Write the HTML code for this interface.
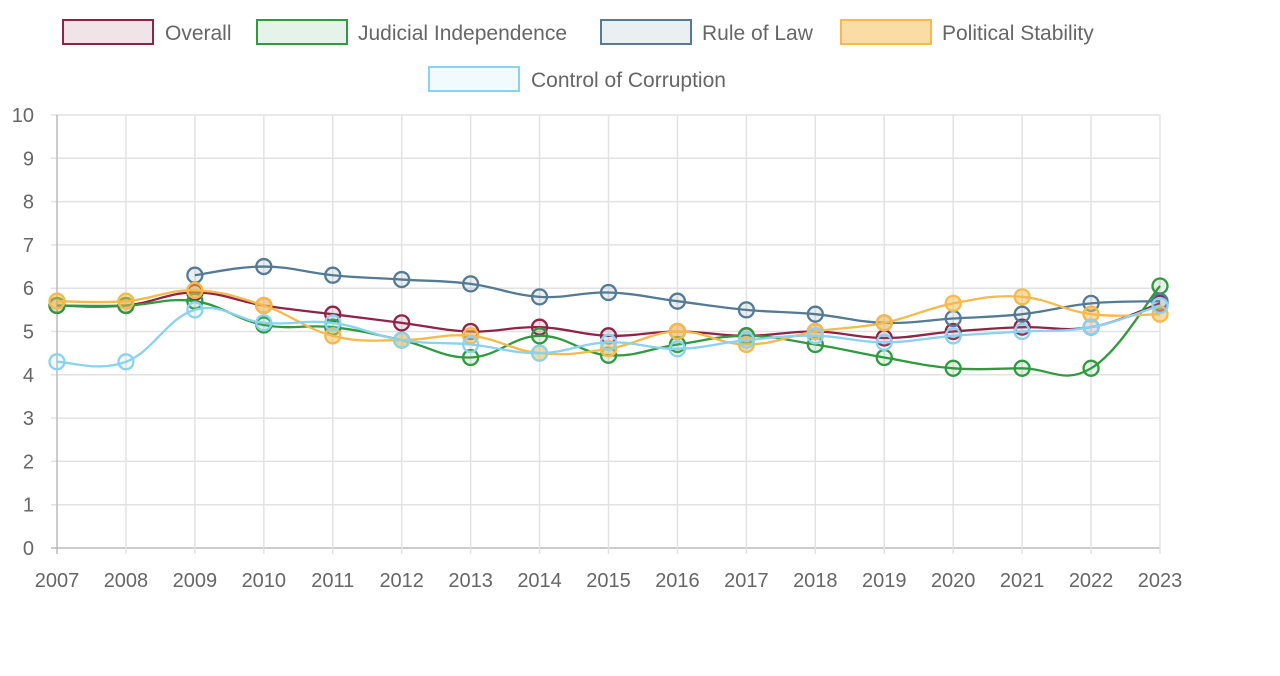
<!DOCTYPE html>
<html><head><meta charset="utf-8"><style>
body{margin:0;background:#fff;font-family:"Liberation Sans",sans-serif}
svg text{font-family:"Liberation Sans",sans-serif;fill:#666}
</style></head><body>
<svg id="c" width="1280" height="671"></svg>
<script>
const years=["2007","2008","2009","2010","2011","2012","2013","2014","2015","2016","2017","2018","2019","2020","2021","2022","2023"];
const yTicks=[0,1,2,3,4,5,6,7,8,9,10];
const overall=[5.6,5.6,5.9,5.6,5.4,5.2,5.0,5.1,4.9,5.0,4.9,5.0,4.85,5.0,5.1,5.1,5.65];
const judicial=[5.6,5.6,5.7,5.15,5.1,4.8,4.4,4.9,4.45,4.7,4.9,4.7,4.4,4.15,4.15,4.15,6.05];
const ruleOfLaw=[null,null,6.3,6.5,6.3,6.2,6.1,5.8,5.9,5.7,5.5,5.4,5.2,5.3,5.4,5.65,5.7];
const political=[5.7,5.7,5.95,5.6,4.9,4.8,4.9,4.5,4.6,5.0,4.7,5.0,5.2,5.65,5.8,5.4,5.4];
const corruption=[4.3,4.3,5.5,5.2,5.2,4.8,4.7,4.5,4.75,4.6,4.8,4.9,4.75,4.9,5.0,5.1,5.6];
const series=[
 {name:"Overall",key:"overall",d:overall,c:"#8e2447",f:"rgba(142,36,71,0.12)"},
 {name:"Judicial Independence",key:"judicial",d:judicial,c:"#2f9a3f",f:"rgba(47,154,63,0.12)"},
 {name:"Rule of Law",key:"rule-of-law",d:ruleOfLaw,c:"#557a93",f:"rgba(85,122,147,0.12)"},
 {name:"Political Stability",key:"political",d:political,c:"#f5b94c",f:"rgba(245,185,76,0.5)"},
 {name:"Control of Corruption",key:"corruption",d:corruption,c:"#8ad2ef",f:"rgba(138,210,239,0.12)"}];
const X0=57,X1=1160,Y0=548,Y1=115;
const xs=i=>X0+(X1-X0)*i/(years.length-1);
const ys=v=>Y0-(Y0-Y1)*v/10;
const svg=document.getElementById('c');const NS="http://www.w3.org/2000/svg";
function mk(t,a,p){const e=document.createElementNS(NS,t);for(const k in a)e.setAttribute(k,a[k]);(p||svg).appendChild(e);return e;}
const grid=mk('g',{});


yTicks.forEach(v=>{mk('line',{x1:X0-6,x2:X1,y1:ys(v),y2:ys(v),stroke:v===0?'#bbb':'#e2e2e2','stroke-width':1.5},grid);
 const t=mk('text',{x:34,y:ys(v)+7,'text-anchor':'end','font-size':20},grid);t.textContent=v;
 
 });
years.forEach((y,i)=>{mk('line',{x1:xs(i),x2:xs(i),y1:Y1,y2:Y0+6,stroke:i===0?'#bbb':'#e2e2e2','stroke-width':1.5},grid);
 const t=mk('text',{x:xs(i),y:587,'text-anchor':'middle','font-size':20},grid);t.textContent=y;
 
 });
function path(pts){let d="M"+pts[0][0]+","+pts[0][1];const T=0.4;
 for(let i=0;i<pts.length-1;i++){const p0=pts[i-1]||pts[i],p1=pts[i],p2=pts[i+1],p3=pts[i+2]||p2;
  const c1=[p1[0]+(p2[0]-p0[0])*T/2,p1[1]+(p2[1]-p0[1])*T/2],c2=[p2[0]-(p3[0]-p1[0])*T/2,p2[1]-(p3[1]-p1[1])*T/2];
  d+=" C"+c1+" "+c2+" "+p2;}return d;}
series.forEach(s=>{const g=mk('g',{});
 
 
 const pts=[];s.d.forEach((v,i)=>{if(v!=null)pts.push([xs(i),ys(v)]);});
 const l=mk('path',{d:path(pts),fill:'none',stroke:s.c,'stroke-width':2.3},g);
 
 
 pts.forEach(p=>{const c=mk('circle',{cx:p[0],cy:p[1],r:7.5,fill:s.f,stroke:s.c,'stroke-width':2.3},g);
  
  });});
const leg=[[63,20,165],[257,20,358],[601,20,702],[841,20,942],[429,67,531]];
series.forEach((s,i)=>{const [bx,by,tx]=leg[i];const g=mk('g',{});
 
 
 mk('rect',{x:bx,y:by,width:90,height:24,fill:s.f,stroke:s.c,'stroke-width':2},g);
 const t=mk('text',{x:tx,y:by+20,'font-size':21},g);t.textContent=s.name;});
</script></body></html>
